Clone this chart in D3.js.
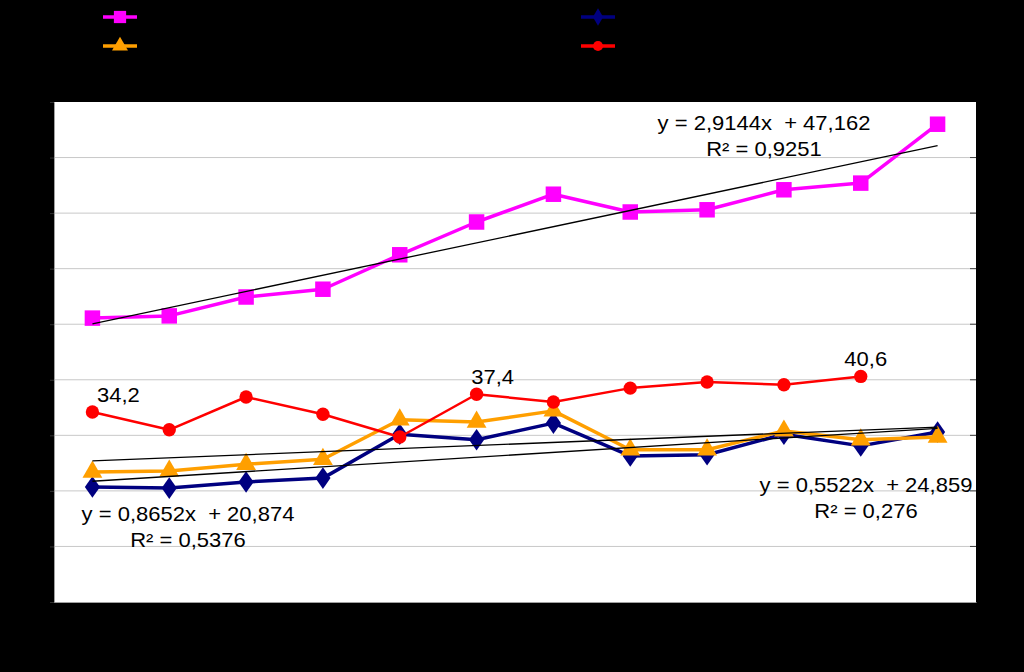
<!DOCTYPE html>
<html><head><meta charset="utf-8">
<script src="https://cdn.jsdelivr.net/npm/d3@7"></script>
<style>html,body{margin:0;padding:0;background:#000;}svg{display:block;}text{white-space:pre;}</style>
</head><body>
<svg id="chart" width="1024" height="672"></svg>
<script>
// ---- data ----
const categories = [1,2,3,4,5,6,7,8,9,10,11,12];
const pinkValues   = [51.1, 51.5, 54.9, 56.3, 62.5, 68.4, 73.4, 70.2, 70.6, 74.2, 75.4, 86.0];
const navyValues   = [20.7, 20.5, 21.6, 22.3, 30.2, 29.2, 32.2, 26.3, 26.5, 30.2, 28.1, 30.6];
const orangeValues = [23.4, 23.6, 24.8, 25.7, 32.8, 32.4, 34.4, 27.4, 27.4, 30.8, 29.2, 29.7];
const redValues    = [34.2, 31.0, 36.9, 33.8, 29.7, 37.4, 36.0, 38.5, 39.6, 39.1, 40.6, null];
const yTicks = [0,10,20,30,40,50,60,70,80,90];
// trend lines: [slope, intercept]
const pinkTrend = [2.9144, 47.162];
const navyTrend = [0.8652, 20.874];
const orangeTrend = [0.5522, 24.859];
const trendLabels = [
  ["y = 2,9144x  + 47,162","R² = 0,9251"],
  ["y = 0,8652x  + 20,874","R² = 0,5376"],
  ["y = 0,5522x  + 24,859","R² = 0,276"]
];
const redLabelIdx = [0, 5, 10];
const redLabelText = ["34,2", "37,4", "40,6"];

// ---- layout ----
const svg = d3.select("#chart");
const L=54, R=976, T=102, B=602;
svg.append("rect").attr("width",1024).attr("height",672).attr("fill","#000");
svg.append("rect").attr("x",L).attr("y",T).attr("width",R-L).attr("height",B-T).attr("fill","#fff");

const x = d3.scaleBand().domain(categories).range([L,R]);
const cx = c => x(c) + x.bandwidth()/2;
const y = d3.scaleLinear().domain([0,90]).range([B,T]);

// gridlines
svg.append("g").selectAll("line").data(yTicks.filter(t=>t>0 && t<90)).join("line")
  .attr("x1",L).attr("x2",R).attr("y1",d=>y(d)).attr("y2",d=>y(d))
  .attr("stroke","#c8c8c8").attr("stroke-width",1);
// axes (tick labels black on black as in reference)
const yAxis = svg.append("g").attr("transform",`translate(${L},0)`)
  .call(d3.axisLeft(y).tickValues(yTicks).tickSize(4));
yAxis.select(".domain").attr("stroke","#a0a0a0");
yAxis.selectAll(".tick line").attr("stroke","#303030");
yAxis.selectAll("text").attr("fill","#000").attr("font-family","Liberation Sans, Arial").attr("font-size",14);
const xAxis = svg.append("g").attr("transform",`translate(0,${B})`)
  .call(d3.axisBottom(x).tickSize(0));
xAxis.select(".domain").attr("stroke","#a0a0a0");
xAxis.selectAll("text").attr("fill","#000").attr("font-family","Liberation Sans, Arial").attr("font-size",14);
// right side ticks
svg.append("g").selectAll("line").data(yTicks.filter(t=>t>0 && t<90)).join("line")
  .attr("x1",R-6).attr("x2",R).attr("y1",d=>y(d)).attr("y2",d=>y(d))
  .attr("stroke","#404040").attr("stroke-width",1);

// series lines
const line = d3.line().defined(d=>d.v!=null).x(d=>cx(d.c)).y(d=>y(d.v));
const toPts = arr => arr.map((v,i)=>({c:categories[i], v}));

const series = [
  {vals:navyValues, color:"#000080", w:3.5, sym:d3.symbolDiamond, size:150},
  {vals:orangeValues, color:"#FF9F00", w:3.5, sym:d3.symbolTriangle, size:170},
  {vals:redValues, color:"#FF0000", w:2.5, sym:d3.symbolCircle, size:140},
  {vals:pinkValues, color:"#FF00FF", w:3.5, sym:d3.symbolSquare, size:240}
];
series.forEach(s=>{
  svg.append("path").datum(toPts(s.vals)).attr("d",line)
    .attr("fill","none").attr("stroke",s.color).attr("stroke-width",s.w).attr("stroke-linejoin","round");
  svg.append("g").selectAll("path").data(toPts(s.vals).filter(d=>d.v!=null)).join("path")
    .attr("d",d3.symbol().type(s.sym).size(s.size))
    .attr("transform",d=>`translate(${cx(d.c)},${y(d.v)})`+(s.sym===d3.symbolDiamond?" scale(1.15,0.95)":""))
    .attr("fill",s.color);
});

// trend lines
[orangeTrend, navyTrend, pinkTrend].forEach(tr=>{
  const x1 = categories[0], x2 = categories[categories.length-1];
  svg.append("line")
    .attr("x1",cx(x1)).attr("y1",y(tr[0]*x1+tr[1]))
    .attr("x2",cx(x2)).attr("y2",y(tr[0]*x2+tr[1]))
    .attr("stroke","#000").attr("stroke-width",1.3);
});

// text helper
function label(t, px, py, anchor){
  svg.append("text").attr("transform",`translate(${px},${py}) scale(1.1,1)`)
    .attr("text-anchor",anchor||"middle")
    .attr("font-family","Liberation Sans, Arial, sans-serif").attr("font-size",20)
    .attr("fill","#000").text(t);
}
// red data labels (Excel places them up-right of the point)
const redDx = [26, 16, 5];
redLabelIdx.forEach((idx,k)=>{
  label(redLabelText[k], cx(categories[idx]) + redDx[k], y(redValues[idx]) - 10);
});
// trend equations
const trendPos = [[764,130],[188,521],[866,492]];
trendLabels.forEach((tl,k)=>{
  label(tl[0], trendPos[k][0], trendPos[k][1]);
  label(tl[1], trendPos[k][0], trendPos[k][1]+26);
});

// legend (symbols only, labels black on black)
const legend = [
  {color:"#FF00FF", sym:d3.symbolSquare, size:150, lx:103, ly:17},
  {color:"#000080", sym:d3.symbolDiamond, size:90, lx:581, ly:17},
  {color:"#FF9F00", sym:d3.symbolTriangle, size:110, lx:103, ly:46},
  {color:"#FF0000", sym:d3.symbolCircle, size:80, lx:581, ly:46}
];
legend.forEach(l=>{
  svg.append("line").attr("x1",l.lx).attr("x2",l.lx+34).attr("y1",l.ly).attr("y2",l.ly)
    .attr("stroke",l.color).attr("stroke-width",3.5);
  svg.append("path").attr("d",d3.symbol().type(l.sym).size(l.size)())
    .attr("transform",`translate(${l.lx+17},${l.ly})`).attr("fill",l.color);
});
</script>
</body></html>
